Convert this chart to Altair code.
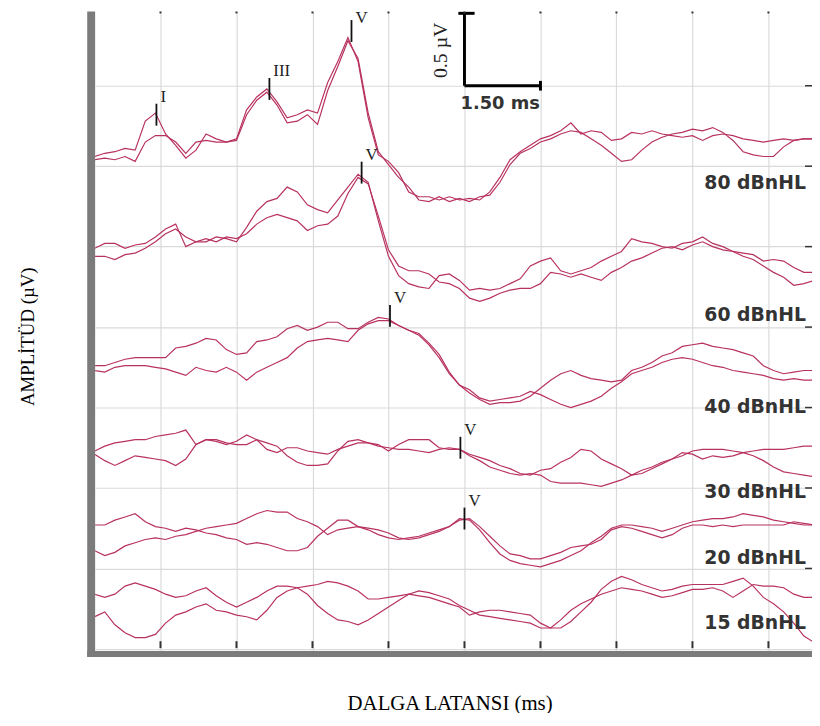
import altair as alt
import pandas as pd

# ---------------- data ----------------
times_ms = [0.2, 0.4, 0.6, 0.8, 1.0, 1.2, 1.4, 1.6, 1.8, 2.0, 2.2, 2.4, 2.6, 2.8, 3.0, 3.2, 3.4, 3.6,
            3.8, 4.0, 4.2, 4.4, 4.6, 4.8, 5.0, 5.2, 5.4, 5.6, 5.8, 6.0, 6.2, 6.4, 6.6, 6.8, 7.0, 7.2,
            7.4, 7.6, 7.8, 8.0, 8.2, 8.4, 8.6, 8.8, 9.0, 9.2, 9.4, 9.6, 9.8, 10.0, 10.2, 10.4, 10.6,
            10.8, 11.0, 11.2, 11.4, 11.6, 11.8, 12.0, 12.2, 12.4, 12.6, 12.8, 13.0, 13.2, 13.4, 13.6,
            13.8, 14.0, 14.2, 14.4]

level_names = ["80 dBnHL", "60 dBnHL", "40 dBnHL", "30 dBnHL", "20 dBnHL", "15 dBnHL"]
level_offset_uv = [3.0, 2.5, 1.75, 1.25, 0.75, 0.25]
level_label_uv = [2.860, 2.035, 1.463, 0.940, 0.528, 0.122]

trace_80_a = [0.06, 0.08, 0.09, 0.11, 0.10, 0.28, 0.33, 0.20, 0.13, 0.05,
              0.10, 0.20, 0.17, 0.15, 0.17, 0.35, 0.43, 0.48, 0.40, 0.30,
              0.32, 0.35, 0.33, 0.52, 0.65, 0.80, 0.65, 0.30, 0.07, 0.03,
              -0.04, -0.16, -0.19, -0.19, -0.21, -0.19, -0.21, -0.20, -0.21, -0.16,
              -0.07, 0.04, 0.09, 0.13, 0.17, 0.19, 0.22, 0.27, 0.20, 0.22,
              0.21, 0.16, 0.17, 0.21, 0.20, 0.22, 0.20, 0.19, 0.18, 0.19,
              0.16, 0.19, 0.20, 0.19, 0.17, 0.16, 0.15, 0.16, 0.17, 0.16,
              0.17, 0.17]
trace_80_b = [0.04, 0.05, 0.04, 0.06, 0.03, 0.15, 0.19, 0.19, 0.15, 0.08,
              0.15, 0.16, 0.15, 0.15, 0.16, 0.32, 0.41, 0.46, 0.38, 0.27,
              0.28, 0.32, 0.26, 0.47, 0.62, 0.78, 0.67, 0.33, 0.09, 0.01,
              -0.07, -0.13, -0.21, -0.22, -0.19, -0.22, -0.20, -0.22, -0.19, -0.18,
              -0.10, 0.01, 0.08, 0.11, 0.15, 0.17, 0.20, 0.22, 0.21, 0.17,
              0.13, 0.08, 0.03, 0.04, 0.10, 0.15, 0.18, 0.20, 0.21, 0.23,
              0.22, 0.24, 0.21, 0.16, 0.09, 0.07, 0.06, 0.06, 0.12, 0.16,
              0.17, 0.17]
trace_60_a = [-0.01, 0.02, 0.02, -0.01, 0.01, 0.02, 0.06, 0.11, 0.14, 0.00,
              0.03, 0.03, 0.06, 0.05, 0.03, 0.12, 0.22, 0.28, 0.30, 0.37,
              0.34, 0.26, 0.23, 0.21, 0.29, 0.37, 0.45, 0.40, 0.16, -0.06,
              -0.18, -0.23, -0.25, -0.26, -0.18, -0.17, -0.21, -0.27, -0.26, -0.27,
              -0.26, -0.23, -0.20, -0.12, -0.09, -0.07, -0.15, -0.17, -0.15, -0.13,
              -0.09, -0.06, -0.03, 0.05, 0.03, 0.02, 0.00, -0.01, 0.02, 0.03,
              0.06, 0.02, 0.00, -0.03, -0.04, -0.05, -0.09, -0.08, -0.09, -0.13,
              -0.16, -0.16]
trace_60_b = [-0.06, -0.06, -0.08, -0.05, -0.04, -0.01, 0.03, 0.08, 0.11, 0.06,
              0.03, 0.05, 0.03, 0.06, 0.05, 0.08, 0.14, 0.18, 0.20, 0.18,
              0.16, 0.10, 0.13, 0.14, 0.19, 0.33, 0.43, 0.39, 0.19, -0.02,
              -0.12, -0.15, -0.15, -0.17, -0.22, -0.23, -0.26, -0.32, -0.34, -0.32,
              -0.29, -0.27, -0.26, -0.26, -0.23, -0.16, -0.17, -0.19, -0.17, -0.19,
              -0.21, -0.16, -0.13, -0.09, -0.07, -0.04, -0.01, 0.00, -0.02, 0.01,
              0.03, 0.00, -0.02, -0.03, -0.06, -0.08, -0.12, -0.16, -0.19, -0.24,
              -0.23, -0.21]
trace_40_a = [0.01, 0.01, 0.03, 0.05, 0.06, 0.06, 0.06, 0.06, 0.12, 0.13,
              0.15, 0.18, 0.17, 0.11, 0.08, 0.09, 0.16, 0.17, 0.19, 0.24,
              0.26, 0.23, 0.25, 0.28, 0.28, 0.24, 0.24, 0.28, 0.31, 0.30,
              0.26, 0.23, 0.21, 0.15, 0.08, -0.03, -0.11, -0.16, -0.20, -0.23,
              -0.22, -0.22, -0.21, -0.18, -0.13, -0.08, -0.04, -0.02, -0.05, -0.07,
              -0.08, -0.09, -0.08, -0.02, 0.00, 0.03, 0.07, 0.09, 0.13, 0.14,
              0.15, 0.13, 0.12, 0.11, 0.09, 0.07, 0.01, -0.02, -0.04, -0.03,
              -0.02, -0.02]
trace_40_b = [-0.02, -0.03, 0.00, 0.01, 0.01, 0.01, 0.00, -0.01, -0.03, -0.05,
              0.00, -0.02, -0.03, 0.00, -0.03, -0.08, -0.03, 0.00, 0.03, 0.06,
              0.12, 0.16, 0.17, 0.18, 0.17, 0.16, 0.23, 0.27, 0.29, 0.29,
              0.26, 0.23, 0.20, 0.14, 0.06, -0.04, -0.11, -0.14, -0.19, -0.21,
              -0.20, -0.19, -0.18, -0.15, -0.17, -0.20, -0.23, -0.25, -0.23, -0.21,
              -0.18, -0.13, -0.09, -0.04, -0.02, 0.00, 0.03, 0.05, 0.06, 0.05,
              0.03, 0.01, 0.00, -0.02, -0.03, -0.04, -0.05, -0.07, -0.08, -0.07,
              -0.08, -0.08]
trace_30_a = [-0.02, 0.01, 0.03, 0.04, 0.05, 0.05, 0.07, 0.08, 0.09, 0.11,
              0.02, 0.05, 0.05, 0.03, 0.02, 0.02, 0.05, 0.03, 0.01, -0.05,
              -0.09, -0.11, -0.11, -0.10, -0.02, 0.04, 0.05, 0.03, 0.02, -0.02,
              0.02, 0.05, 0.05, 0.05, 0.00, -0.01, -0.01, -0.04, -0.06, -0.08,
              -0.11, -0.13, -0.16, -0.17, -0.14, -0.13, -0.09, -0.06, -0.01, -0.02,
              -0.07, -0.10, -0.13, -0.17, -0.16, -0.13, -0.10, -0.07, -0.03, -0.04,
              -0.07, -0.05, -0.06, -0.05, -0.03, -0.02, -0.01, -0.01, -0.01, 0.00,
              0.01, 0.01]
trace_30_b = [-0.04, -0.08, -0.11, -0.08, -0.05, -0.06, -0.07, -0.08, -0.11, -0.07,
              0.02, 0.05, 0.04, 0.02, 0.04, 0.08, 0.05, -0.01, -0.03, 0.00,
              0.00, -0.02, -0.03, -0.04, -0.01, 0.01, 0.03, 0.03, 0.01, 0.00,
              -0.01, -0.01, -0.02, -0.03, -0.01, 0.00, -0.01, -0.05, -0.08, -0.12,
              -0.14, -0.16, -0.17, -0.16, -0.17, -0.21, -0.22, -0.22, -0.22, -0.23,
              -0.24, -0.22, -0.20, -0.17, -0.14, -0.12, -0.09, -0.07, -0.05, -0.02,
              -0.01, -0.01, -0.01, -0.02, -0.03, -0.05, -0.08, -0.12, -0.15, -0.16,
              -0.17, -0.18]
trace_20_a = [0.02, 0.02, 0.05, 0.07, 0.09, 0.04, 0.01, 0.00, -0.02, 0.00,
              -0.01, -0.03, -0.04, -0.06, -0.07, -0.10, -0.09, -0.10, -0.12, -0.14,
              -0.14, -0.12, -0.05, 0.00, 0.05, 0.05, 0.01, -0.01, -0.04, -0.06,
              -0.07, -0.06, -0.05, -0.03, -0.01, 0.01, 0.06, 0.05, -0.01, -0.09,
              -0.16, -0.20, -0.22, -0.23, -0.24, -0.22, -0.20, -0.17, -0.14, -0.09,
              -0.05, 0.00, 0.02, 0.02, 0.01, 0.00, -0.02, 0.00, 0.02, 0.04,
              0.05, 0.06, 0.06, 0.07, 0.09, 0.08, 0.07, 0.05, 0.04, 0.03,
              0.02, 0.02]
trace_20_b = [-0.14, -0.17, -0.15, -0.11, -0.09, -0.07, -0.06, -0.07, -0.05, -0.04,
              -0.02, 0.00, 0.01, 0.02, 0.03, 0.06, 0.09, 0.11, 0.10, 0.10,
              0.06, 0.04, 0.01, -0.04, -0.01, 0.00, 0.01, 0.00, -0.01, -0.03,
              -0.06, -0.07, -0.06, -0.04, -0.02, 0.01, 0.05, 0.06, 0.01, -0.05,
              -0.11, -0.16, -0.17, -0.19, -0.19, -0.17, -0.15, -0.12, -0.11, -0.10,
              -0.07, -0.01, 0.01, 0.00, -0.02, -0.04, -0.06, -0.04, 0.00, 0.02,
              0.02, 0.01, 0.02, 0.01, 0.02, 0.02, 0.02, 0.02, 0.02, 0.04,
              0.03, 0.02]
trace_15_a = [0.09, 0.07, 0.09, 0.14, 0.16, 0.14, 0.12, 0.09, 0.07, 0.08,
              0.11, 0.13, 0.08, 0.04, 0.01, 0.04, 0.07, 0.11, 0.14, 0.14,
              0.13, 0.09, 0.02, -0.03, -0.07, -0.08, -0.10, -0.07, -0.03, 0.01,
              0.05, 0.09, 0.11, 0.10, 0.08, 0.06, 0.02, -0.01, -0.04, -0.05,
              -0.06, -0.07, -0.08, -0.09, -0.12, -0.12, -0.12, -0.08, -0.02, 0.04,
              0.12, 0.17, 0.20, 0.18, 0.15, 0.13, 0.11, 0.12, 0.14, 0.15,
              0.15, 0.15, 0.15, 0.17, 0.19, 0.14, 0.07, 0.03, -0.02, -0.09,
              -0.17, -0.21]
trace_15_b = [-0.05, -0.02, -0.10, -0.15, -0.18, -0.18, -0.16, -0.09, -0.04, -0.02,
              0.01, 0.03, -0.01, -0.02, -0.04, -0.05, -0.07, -0.01, 0.07, 0.11,
              0.13, 0.14, 0.15, 0.17, 0.16, 0.14, 0.11, 0.06, 0.06, 0.07,
              0.08, 0.09, 0.08, 0.07, 0.05, 0.03, 0.01, -0.04, -0.02, -0.01,
              -0.01, -0.02, -0.03, -0.04, -0.09, -0.12, -0.07, -0.01, 0.03, 0.06,
              0.09, 0.11, 0.13, 0.12, 0.11, 0.09, 0.07, 0.08, 0.10, 0.12,
              0.12, 0.13, 0.11, 0.07, 0.11, 0.15, 0.14, 0.14, 0.13, 0.09,
              0.07, 0.07]

traces = [(trace_80_a, trace_80_b), (trace_60_a, trace_60_b), (trace_40_a, trace_40_b),
          (trace_30_a, trace_30_b), (trace_20_a, trace_20_b), (trace_15_a, trace_15_b)]

# wave markers: label, level index, latency (ms), amplitude (uV, relative to level offset)
peak_labels = ["I", "III", "V", "V", "V", "V", "V"]
peak_level = [0, 0, 0, 1, 2, 3, 4]
peak_latency_ms = [1.42, 3.65, 5.27, 5.47, 6.03, 7.42, 7.50]
peak_amp_uv = [0.32, 0.48, 0.84, 0.46, 0.32, 0.00, 0.06]

grid_ms = [1.5, 3.0, 4.5, 6.0, 7.5, 9.0, 10.5, 12.0, 13.5]
grid_uv = [0.0, 0.5, 1.0, 1.5, 2.0, 2.5, 3.0, 3.5]

# calibration bar
bar_t0, bar_dt = 7.5, 1.5
bar_v0, bar_top = 3.5, 3.95
bar_label_ms_text = "1.50 ms"
bar_label_uv_text = "0.5 µV"
bar_label_uv_pos = (7.03, 3.72)
level_label_ms = 14.24

# ---------------- tables ----------------
rows = []
for name, off, (a, b) in zip(level_names, level_offset_uv, traces):
    for rep, arr in (("A", a), ("B", b)):
        for t, v in zip(times_ms, arr):
            rows.append({"t": t, "uv": off + v, "trace": f"{name}-{rep}"})
trace_df = pd.DataFrame(rows)

half = 0.068
peak_df = pd.DataFrame({
    "t": peak_latency_ms,
    "mid": [level_offset_uv[l] + a for l, a in zip(peak_level, peak_amp_uv)],
    "label": peak_labels,
})
peak_df["uv"] = peak_df["mid"] + half
peak_df["uv2"] = peak_df["mid"] - half
peak_df["lab_uv"] = peak_df["uv"].clip(upper=3.88)

label_df = pd.DataFrame({"t": [level_label_ms] * len(level_names), "uv": level_label_uv,
                         "name": level_names})

bar_df = pd.DataFrame({
    "t": [bar_t0, bar_t0, bar_t0 - 0.12, bar_t0 + bar_dt],
    "t2": [bar_t0, bar_t0 + bar_dt, bar_t0 + 0.2, bar_t0 + bar_dt],
    "uv": [bar_v0, bar_v0, bar_top, bar_v0 - 0.03],
    "uv2": [bar_top, bar_v0, bar_top, bar_v0 + 0.03],
})

grid_x_df = pd.DataFrame({"t": grid_ms})
grid_y_df = pd.DataFrame({"uv": grid_uv[1:]})
one = pd.DataFrame({"a": [0]})

# ---------------- chart ----------------
W, H = 724, 646
SERIF = "Liberation Serif"
SANS = "DejaVu Sans"
TRACE = "#b8325e"

xs = alt.Scale(domain=[0.21, 14.36], nice=False, zero=False)
ys = alt.Scale(domain=[-0.0138, 3.9615], nice=False, zero=False)

x_axis = alt.Axis(values=grid_ms, grid=True, gridColor="#dadada", gridWidth=1.2, labels=False,
                  ticks=False, domain=False, title="DALGA LATANSI (ms)", titleFont=SERIF,
                  titleFontSize=21, titleFontWeight="normal", titleColor="#000000",
                  titlePadding=42, titleX=358)
y_axis = alt.Axis(values=grid_uv, grid=True, gridColor="#dadada", gridWidth=1.2, labels=False,
                  ticks=False, domain=False, title="AMPLİTÜD (µV)", titleFont=SERIF,
                  titleFontSize=19, titleFontWeight="normal", titleColor="#000000",
                  titlePadding=58, titleY=328)


def X(field="t"):
    return alt.X(f"{field}:Q", scale=xs, axis=x_axis)


def Y(field="uv"):
    return alt.Y(f"{field}:Q", scale=ys, axis=y_axis)


lines = alt.Chart(trace_df).mark_line(color=TRACE, strokeWidth=1.2, clip=True).encode(
    x=X(), y=Y(), detail="trace:N")

peak_rules = alt.Chart(peak_df).mark_rule(color="#111111", strokeWidth=1.8).encode(
    x=X(), y=Y(), y2="uv2:Q")

peak_text = alt.Chart(peak_df).mark_text(font=SERIF, fontSize=17, color="#222222", align="left",
                                         baseline="alphabetic", dx=4, dy=-2).encode(
    x=X(), y=Y("lab_uv"), text="label:N")

level_text = alt.Chart(label_df).mark_text(font=SANS, fontSize=19, fontWeight="bold",
                                           color="#333333", align="right",
                                           baseline="alphabetic").encode(
    x=X(), y=Y(), text="name:N")

bar_rules = alt.Chart(bar_df).mark_rule(color="#000000", strokeWidth=3).encode(
    x=X(), x2="t2:Q", y=Y(), y2="uv2:Q")

bar_ms_text = alt.Chart(pd.DataFrame({"t": [bar_t0], "uv": [bar_v0], "txt": [bar_label_ms_text]})
                        ).mark_text(font=SANS, fontSize=18, fontWeight="bold", color="#333333",
                                    align="left", baseline="alphabetic", dx=-4, dy=24).encode(
    x=X(), y=Y(), text="txt:N")

bar_uv_text = alt.Chart(pd.DataFrame({"t": [bar_label_uv_pos[0]], "uv": [bar_label_uv_pos[1]],
                                      "txt": [bar_label_uv_text]})
                        ).mark_text(font=SERIF, fontSize=20, color="#222222", align="center",
                                    baseline="middle", angle=270).encode(
    x=X(), y=Y(), text="txt:N")

# frame and small ticks
frame_left = alt.Chart(one).mark_rule(color="#7b7b7b", strokeWidth=8).encode(
    x=alt.value(-4), y=alt.value(0), y2=alt.value(H + 6))
frame_bottom = alt.Chart(one).mark_rule(color="#7b7b7b", strokeWidth=6).encode(
    x=alt.value(-8), x2=alt.value(W), y=alt.value(H + 3))
bottom_ticks = alt.Chart(grid_x_df).mark_rule(color="#333333", strokeWidth=2).encode(
    x=X(), y=alt.value(H - 10), y2=alt.value(H - 3))
top_ticks = alt.Chart(grid_x_df).mark_rule(color="#333333", strokeWidth=2).encode(
    x=X(), y=alt.value(0), y2=alt.value(2))
right_ticks = alt.Chart(grid_y_df).mark_rule(color="#333333", strokeWidth=1.5).encode(
    y=Y(), x=alt.value(W - 7), x2=alt.value(W))

chart = alt.layer(
    lines, peak_rules, peak_text, level_text, bar_rules, bar_ms_text, bar_uv_text,
    frame_left, frame_bottom, bottom_ticks, top_ticks, right_ticks,
).properties(
    width=W, height=H,
    autosize=alt.AutoSizeParams(type="none"),
    padding={"left": 88, "top": 0, "right": 0, "bottom": 59},
    background="white",
).configure_view(stroke=None)

chart.save("out.html", embed_options={"renderer": "svg", "actions": False})
